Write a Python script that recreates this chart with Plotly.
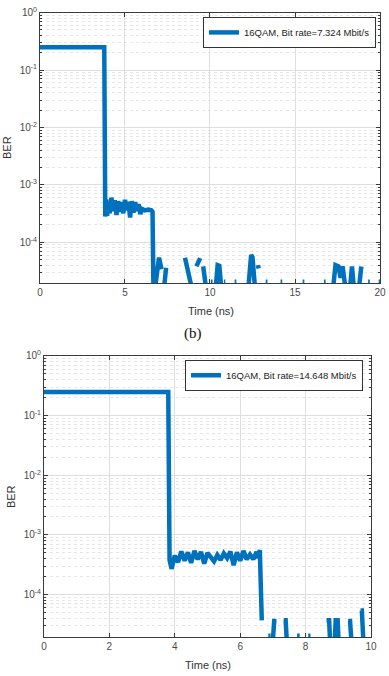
import plotly.graph_objects as go

# ---------------- data ----------------
# (a) 16QAM, 7.324 Mbit/s  -- None marks a gap (BER = 0 on log axis)
time_a = [0.0, 3.78, 3.84, 3.9, 3.95, 4.0, 4.1, 4.2, 4.3, 4.4, 4.5, 4.6, 4.7, 4.8,
          4.9, 5.0, 5.1, 5.2, 5.3, 5.4, 5.5, 5.6, 5.7, 5.8, 5.9, 6.0, 6.15, 6.35,
          6.55, 6.62, 6.68, 7.0, 7.15, 7.2, 7.25, 7.42, 7.5, 8.53, 9.02, 9.1,
          9.2, 9.42, 9.5, 9.6, 9.82, 9.9, 10.05, 10.15, 10.2, 10.3, 10.45, 10.55,
          10.7, 10.75, 10.82, 10.9, 10.95, 11.45, 11.55, 11.6, 12.22, 12.42, 12.5,
          12.68, 12.75, 12.82, 12.86, 12.9, 13.28, 13.38, 13.4, 14.15, 14.25, 14.3,
          15.45, 15.55, 15.6, 16.7, 16.8, 16.85, 17.2, 17.38, 17.55, 17.68, 17.8,
          18.02, 18.05, 18.2, 18.35, 18.5, 18.55, 18.72, 18.9, 18.95, 19.3, 19.4,
          19.45, 19.92, 20.0]
ber_a = [0.25, 0.25, 2.8e-4, 5.6e-4, 2.9e-4, 4.8e-4, 3.2e-4, 6.0e-4, 3.5e-4, 5.4e-4,
         3.0e-4, 5.2e-4, 3.4e-4, 5.0e-4, 3.2e-4, 5.5e-4, 3.6e-4, 5.1e-4, 2.7e-4,
         5.2e-4, 3.3e-4, 5.0e-4, 3.5e-4, 4.6e-4, 3.1e-4, 3.8e-4, 3.6e-4, 3.7e-4,
         3.6e-4, 3.4e-4, 1.0e-5, 5.4e-5, 3.4e-5, None, 1.2e-5, 3.6e-5, None,
         5.4e-5, 1.2e-5, None, 3.8e-5, 5.3e-5, None, 3.8e-5, 1.2e-5, None,
         2.05e-5, 2.05e-5, None, 1.2e-5, 4.0e-5, 3.9e-5, 1.2e-5, None,
         2.05e-5, 2.05e-5, None, 2.05e-5, 2.05e-5, None, 1.2e-5, 6.0e-5, 5.5e-5,
         1.2e-5, None, 4.0e-5, 3.5e-5, None, 2.05e-5, 2.05e-5, None, 2.05e-5,
         2.05e-5, None, 2.05e-5, 2.05e-5, None, 2.05e-5, 2.05e-5, None, 1.2e-5,
         4.0e-5, 3.8e-5, 2.4e-5, 3.8e-5, 1.2e-5, None, 1.2e-5, 3.8e-5, 1.2e-5,
         None, 1.2e-5, 3.8e-5, None, 2.05e-5, 2.05e-5, None, 2.05e-5, 2.05e-5]

# (b) 16QAM, 14.648 Mbit/s
time_b = [0.0, 3.8, 3.84, 3.9, 4.0, 4.1, 4.2, 4.3, 4.4, 4.5, 4.6, 4.7, 4.8, 4.9,
          5.0, 5.1, 5.2, 5.3, 5.4, 5.5, 5.6, 5.7, 5.8, 5.9, 6.0, 6.1, 6.2, 6.3,
          6.4, 6.5, 6.56, 6.6, 6.66, 6.7, 6.86, 6.93, 6.95, 6.98, 7.04, 7.11,
          7.15, 7.33, 7.39, 7.44, 7.5, 7.74, 7.82, 7.85, 8.08, 8.15, 8.2, 8.64,
          8.72, 8.76, 8.8, 8.88, 8.92, 8.98, 9.02, 9.05, 9.3, 9.36, 9.42, 9.45,
          9.68, 9.72, 9.78]
ber_b = [0.25, 0.25, 3.8e-4, 2.7e-4, 4.5e-4, 3.5e-4, 5.3e-4, 3.7e-4, 5.1e-4, 3.4e-4,
         5.4e-4, 3.9e-4, 5.2e-4, 3.3e-4, 5.0e-4, 4.1e-4, 3.6e-4, 4.6e-4, 3.8e-4,
         4.9e-4, 4.1e-4, 5.3e-4, 3.1e-4, 5.1e-4, 3.7e-4, 5.4e-4, 3.9e-4, 4.7e-4,
         3.9e-4, 5.2e-4, 4.1e-4, 5.6e-4, 3.7e-5, None, 2.05e-5, 2.05e-5, None,
         1.2e-5, 3.6e-5, 3.6e-5, None, 3.7e-5, 3.7e-5, 1.2e-5, None, 2.05e-5,
         2.05e-5, None, 2.05e-5, 2.05e-5, None, 3.7e-5, 3.7e-5, 1.2e-5, None,
         1.2e-5, 3.7e-5, 3.7e-5, 1.2e-5, None, 3.6e-5, 3.6e-5, 1.2e-5, None,
         5.4e-5, 5.4e-5, 1.2e-5]

name_a = "16QAM, Bit rate=7.324 Mbit/s"
name_b = "16QAM, Bit rate=14.648 Mbit/s"
x_title = "Time (ns)"
y_title = "BER"
panel_label = "(b)"
y_major = [1e-4, 1e-3, 1e-2, 1e-1, 1.0]
y_major_text = ["10<sup>-4</sup>", "10<sup>-3</sup>", "10<sup>-2</sup>",
                "10<sup>-1</sup>", "10<sup>0</sup>"]
y_minor = [m * 10.0 ** e for e in range(-5, 0) for m in range(2, 10)]

# ---------------- styling ----------------
BLUE = "#0072BD"
AX = "#3a3a3a"
TXT = "#4a4a4a"
GRID = "#dedede"
MINOR = "#e6e6e6"
FONT = "Liberation Sans, Arial, sans-serif"

fig = go.Figure()
fig.add_trace(go.Scatter(x=time_a, y=ber_a, mode="lines", name=name_a,
                         line=dict(color=BLUE, width=4.5), connectgaps=False,
                         xaxis="x", yaxis="y", legend="legend"))
fig.add_trace(go.Scatter(x=time_b, y=ber_b, mode="lines", name=name_b,
                         line=dict(color=BLUE, width=4.5), connectgaps=False,
                         xaxis="x2", yaxis="y2", legend="legend2"))


def xax(domain, anchor, rng, dtick):
    return dict(domain=domain, anchor=anchor, range=rng, dtick=dtick, tick0=0,
                ticks="inside", ticklen=4, tickcolor=AX, mirror="ticks",
                showline=True, linecolor=AX, linewidth=1, showgrid=True,
                gridcolor=GRID, zeroline=False, automargin=False,
                tickfont=dict(family=FONT, size=10, color=TXT))


def yax(domain, anchor):
    return dict(domain=domain, anchor=anchor, type="log", range=[-4.715, 0],
                tickmode="array", tickvals=y_major, ticktext=y_major_text,
                ticks="inside", ticklen=4, tickcolor=AX, mirror="ticks",
                showline=True, linecolor=AX, linewidth=1, showgrid=True,
                gridcolor=GRID, zeroline=False, automargin=False,
                minor=dict(tickmode="array", tickvals=y_minor, ticks="inside",
                           ticklen=2, tickcolor=AX, showgrid=True,
                           gridcolor=MINOR, griddash="dot"),
                tickfont=dict(family=FONT, size=10, color=TXT))


legend_style = dict(bgcolor="white", bordercolor="#333", borderwidth=1,
                    font=dict(family=FONT, size=9.5, color="#222"),
                    xanchor="right", yanchor="top", itemwidth=30,
                    tracegroupgap=0)

title_font = dict(family=FONT, size=11, color="#333")


def ann(text, x, y, angle=0, font=title_font):
    return dict(text=text, x=x, y=y, xref="paper", yref="paper", showarrow=False,
                xanchor="center", yanchor="middle", textangle=angle, font=font)


fig.update_layout(
    width=389, height=676, autosize=False,
    margin=dict(l=0, r=0, t=0, b=0),
    paper_bgcolor="white", plot_bgcolor="white",
    xaxis=xax([0.1028, 0.9769], "y", [0, 20], 5),
    yaxis=yax([0.5809, 0.9812], "x"),
    xaxis2=xax([0.1131, 0.9537], "y2", [0, 10], 2),
    yaxis2=yax([0.0573, 0.4734], "x2"),
    legend=dict(x=0.9666, y=0.975, **legend_style),
    legend2=dict(x=0.9332, y=0.468, **legend_style),
    showlegend=True,
    annotations=[
        ann(x_title, 0.5424, 0.5399),
        ann(x_title, 0.535, 0.0163),
        ann(y_title, 0.018, 0.781, -90),
        ann(y_title, 0.028, 0.266, -90),
        ann(panel_label, 0.496, 0.506, 0,
            dict(family="Liberation Serif, Times New Roman, serif", size=15, color="#111")),
    ],
)

fig.write_html("out.html",
               config={"displayModeBar": False},
               post_script="document.body.style.margin='0';"
                           "document.body.style.overflow='hidden';")
